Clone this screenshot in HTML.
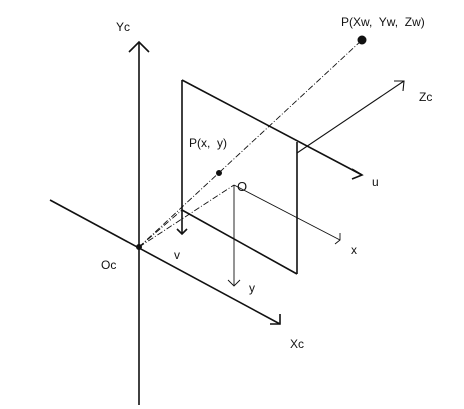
<!DOCTYPE html>
<html><head><meta charset="utf-8"><style>
html,body{margin:0;padding:0;background:#fff}
svg{display:block}
text{font-family:"Liberation Sans",sans-serif;fill:#111;white-space:pre}
</style></head><body>
<svg width="464" height="409" viewBox="0 0 464 409" stroke="#111" fill="none">
<g stroke-width="1.6">
<line x1="139" y1="405" x2="139" y2="42"/>
<polyline points="129,52 139,42 149,52"/>
</g>
<g stroke-width="1.6">
<line x1="50" y1="200" x2="280" y2="324"/>
<polyline points="270,324 280,324 280,314"/>
</g>
<g stroke-width="1.6">
<line x1="182" y1="80" x2="362" y2="175"/>
<polyline points="352,169 362,175 352,179"/>
<line x1="182" y1="80" x2="182" y2="234"/>
<polyline points="177,229 182,234 187,229"/>
<line x1="182" y1="210" x2="297" y2="274"/>
<line x1="297" y1="142" x2="297" y2="274"/>
</g>
<g stroke-width="1.1">
<line x1="297" y1="153" x2="404" y2="81"/>
<polyline points="394,81 404,81 403,91"/>
</g>
<g stroke-width="0.9">
<line x1="234" y1="185" x2="234" y2="286"/>
<polyline points="228,280 234,286 240,280"/>
<line x1="234" y1="185" x2="340" y2="240"/>
<polyline points="335,244 340,240 340,233"/>
</g>
<g stroke-width="0.9" stroke-dasharray="6,2,1,2">
<line x1="139" y1="247" x2="362" y2="40"/>
<line x1="139" y1="247" x2="234" y2="185"/>
<line x1="139" y1="247" x2="182" y2="210"/>
</g>
<circle cx="362" cy="40" r="4" fill="#111"/>
<circle cx="219" cy="173" r="2.5" fill="#111"/>
<circle cx="139" cy="247" r="2.5" fill="#111"/>
<g stroke="none" font-size="12">
<text x="116" y="31">Yc</text>
<text x="341" y="26" xml:space="preserve">P(Xw,  Yw,  Zw)</text>
<text x="419" y="101">Zc</text>
<text x="189" y="147" xml:space="preserve">P(x,  y)</text>
<text x="372" y="186">u</text>
<text x="237" y="191" font-size="13">O</text>
<text x="351" y="254">x</text>
<text x="174" y="259">v</text>
<text x="101" y="269">Oc</text>
<text x="249" y="292">y</text>
<text x="290" y="348">Xc</text>
</g>
</svg>
</body></html>
